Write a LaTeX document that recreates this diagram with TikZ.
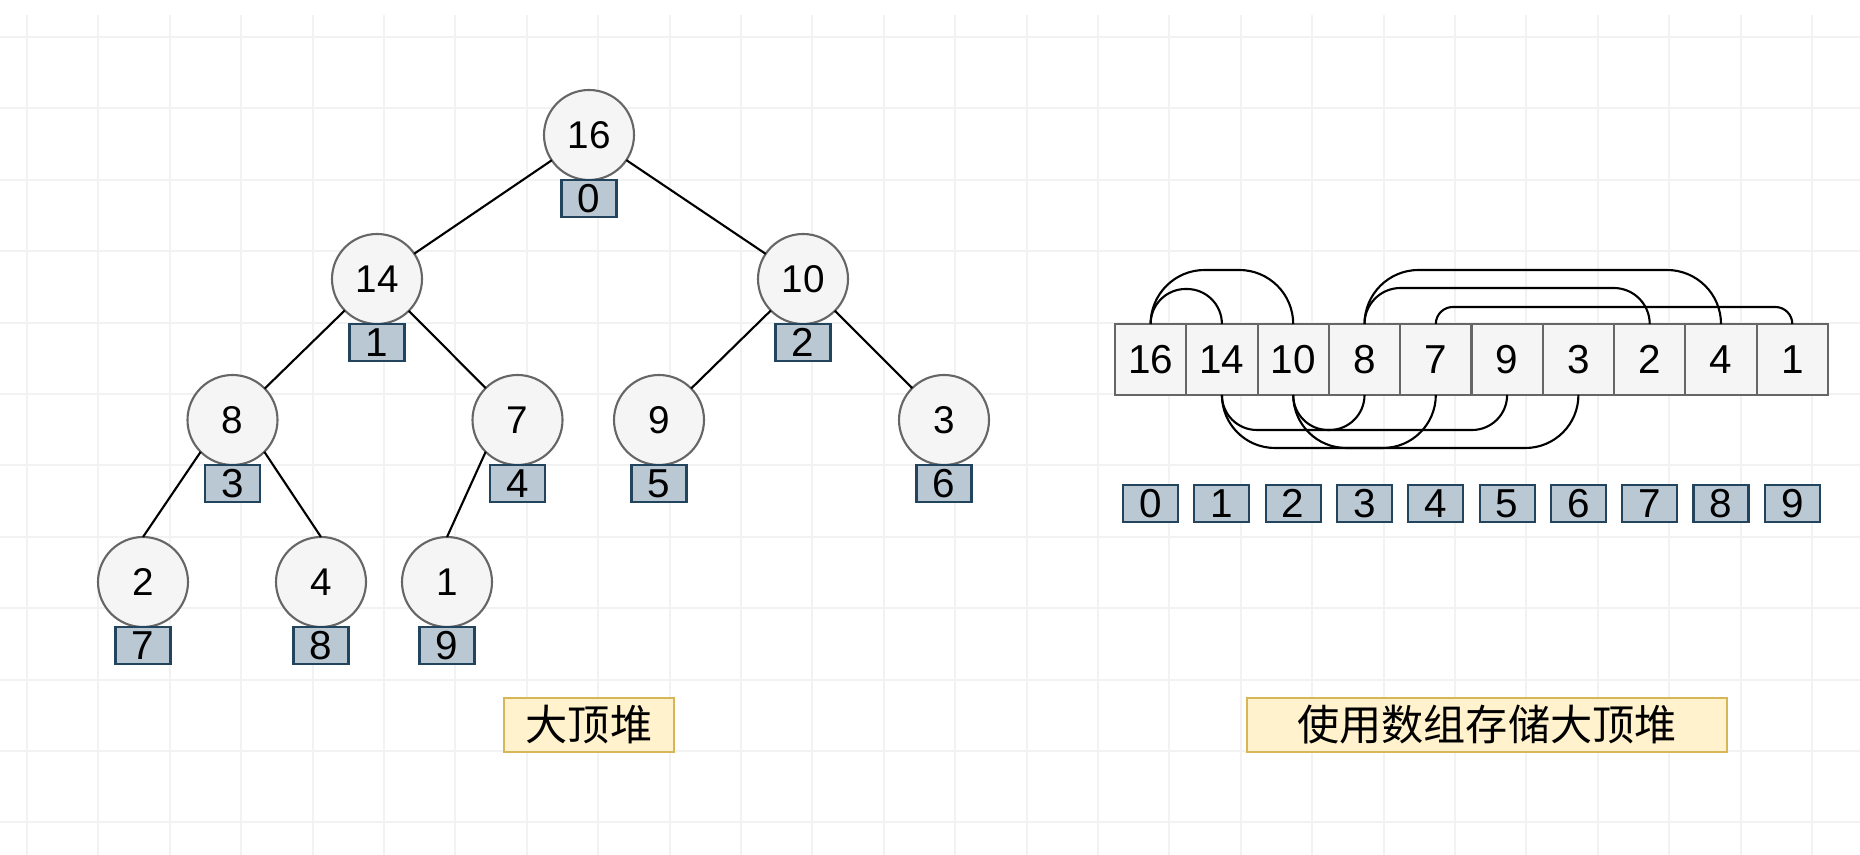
\documentclass[tikz,border=0pt]{standalone}
\usepackage{fontspec}
\setmainfont{Liberation Sans}
\newfontfamily\cjk{Noto Sans CJK SC}
\usepackage{xcolor}
\usetikzlibrary{positioning}
\definecolor{nodefill}{HTML}{F5F5F5}
\definecolor{nodeline}{HTML}{666666}
\definecolor{idxfill}{HTML}{BAC8D3}
\definecolor{idxline}{HTML}{23445D}
\definecolor{tagfill}{HTML}{FFF2CC}
\definecolor{tagline}{HTML}{D6B656}
\definecolor{gridln}{HTML}{F2F2F2}
\tikzset{
  hn/.style={circle,draw=nodeline,fill=nodefill,line width=0.6pt,minimum size=0.9cm,inner sep=0pt,outer sep=0pt,font=\fontsize{11}{13}\selectfont},
  ix/.style={rectangle,draw=idxline,fill=idxfill,line width=0.6pt,minimum width=0.55cm,minimum height=0.37cm,inner sep=0pt,outer sep=0pt,font=\fontsize{11.5}{13}\selectfont},
  cl/.style={rectangle,draw=nodeline,fill=nodefill,line width=0.6pt,minimum width=0.713cm,minimum height=0.71cm,inner sep=0pt,outer sep=0pt,font=\fontsize{11.5}{13}\selectfont},
  ed/.style={line width=0.6pt,black},
  tag/.style={rectangle,draw=tagline,fill=tagfill,line width=0.6pt,minimum height=0.54cm,inner sep=0pt,font=\cjk\fontsize{12}{14}\selectfont},
  grd/.style={gridln,line width=0.6pt}
}
\newcommand{\uparc}[3]{\draw[ed,rounded corners=#3cm] (c#1.north) -- ++(0,#3) -| (c#2.north);}
\newcommand{\dnarc}[3]{\draw[ed,rounded corners=#3cm] (c#1.south) -- ++(0,-#3) -| (c#2.south);}

\begin{document}
\begin{tikzpicture}
\useasboundingbox (0,0) rectangle (18.6,8.55);
\draw[grd,shift={(0.27,0.326)},step=0.714cm] (-0.27,-0.326) grid (18.33,8.074);

\node[hn] (n16) at (5.89,7.20) {16}; \node[ix,below=0pt of n16] (i0) {0};
\node[hn] (n14) at (3.77,5.76) {14}; \node[ix,below=0pt of n14] (i1) {1};
\node[hn] (n10) at (8.03,5.76) {10}; \node[ix,below=0pt of n10] (i2) {2};
\node[hn] (n8) at (2.325,4.35) {8}; \node[ix,below=0pt of n8] (i3) {3};
\node[hn] (n7) at (5.175,4.35) {7}; \node[ix,below=0pt of n7] (i4) {4};
\node[hn] (n9) at (6.59,4.35) {9}; \node[ix,below=0pt of n9] (i5) {5};
\node[hn] (n3) at (9.44,4.35) {3}; \node[ix,below=0pt of n3] (i6) {6};
\node[hn] (n2) at (1.43,2.73) {2}; \node[ix,below=0pt of n2] (i7) {7};
\node[hn] (n4) at (3.21,2.73) {4}; \node[ix,below=0pt of n4] (i8) {8};
\node[hn] (n1) at (4.47,2.73) {1}; \node[ix,below=0pt of n1] (i9) {9};
\draw[ed] (n16) -- (n14);
\draw[ed] (n16) -- (n10);
\draw[ed] (n14) -- (n8);
\draw[ed] (n14) -- (n7);
\draw[ed] (n10) -- (n9);
\draw[ed] (n10) -- (n3);
\draw[ed] (n8.225) -- (n2.north);
\draw[ed] (n8.-45) -- (n4.north);
\draw[ed] (n7.225) -- (n1.north);

\node[cl] (c0) at (11.506,4.955) {16}; \node[ix,below=0.9cm of c0] (k0) {0};
\node[cl,right=0pt of c0] (c1) {14}; \node[ix,below=0.9cm of c1] (k1) {1};
\node[cl,right=0pt of c1] (c2) {10}; \node[ix,below=0.9cm of c2] (k2) {2};
\node[cl,right=0pt of c2] (c3) {8}; \node[ix,below=0.9cm of c3] (k3) {3};
\node[cl,right=0pt of c3] (c4) {7}; \node[ix,below=0.9cm of c4] (k4) {4};
\node[cl,right=0pt of c4] (c5) {9}; \node[ix,below=0.9cm of c5] (k5) {5};
\node[cl,right=0pt of c5] (c6) {3}; \node[ix,below=0.9cm of c6] (k6) {6};
\node[cl,right=0pt of c6] (c7) {2}; \node[ix,below=0.9cm of c7] (k7) {7};
\node[cl,right=0pt of c7] (c8) {4}; \node[ix,below=0.9cm of c8] (k8) {8};
\node[cl,right=0pt of c8] (c9) {1}; \node[ix,below=0.9cm of c9] (k9) {9};
\uparc{0}{1}{0.35}
\uparc{0}{2}{0.54}
\uparc{3}{7}{0.36}
\uparc{3}{8}{0.54}
\uparc{4}{9}{0.17}
\dnarc{1}{3}{0.35}
\dnarc{1}{4}{0.53}
\dnarc{2}{5}{0.35}
\dnarc{2}{6}{0.53}

\node[tag,minimum width=1.70cm] (t1) at (5.89,1.30) {大顶堆};
\node[tag,minimum width=4.80cm] (t2) at (14.87,1.30) {使用数组存储大顶堆};
\end{tikzpicture}
\end{document}
